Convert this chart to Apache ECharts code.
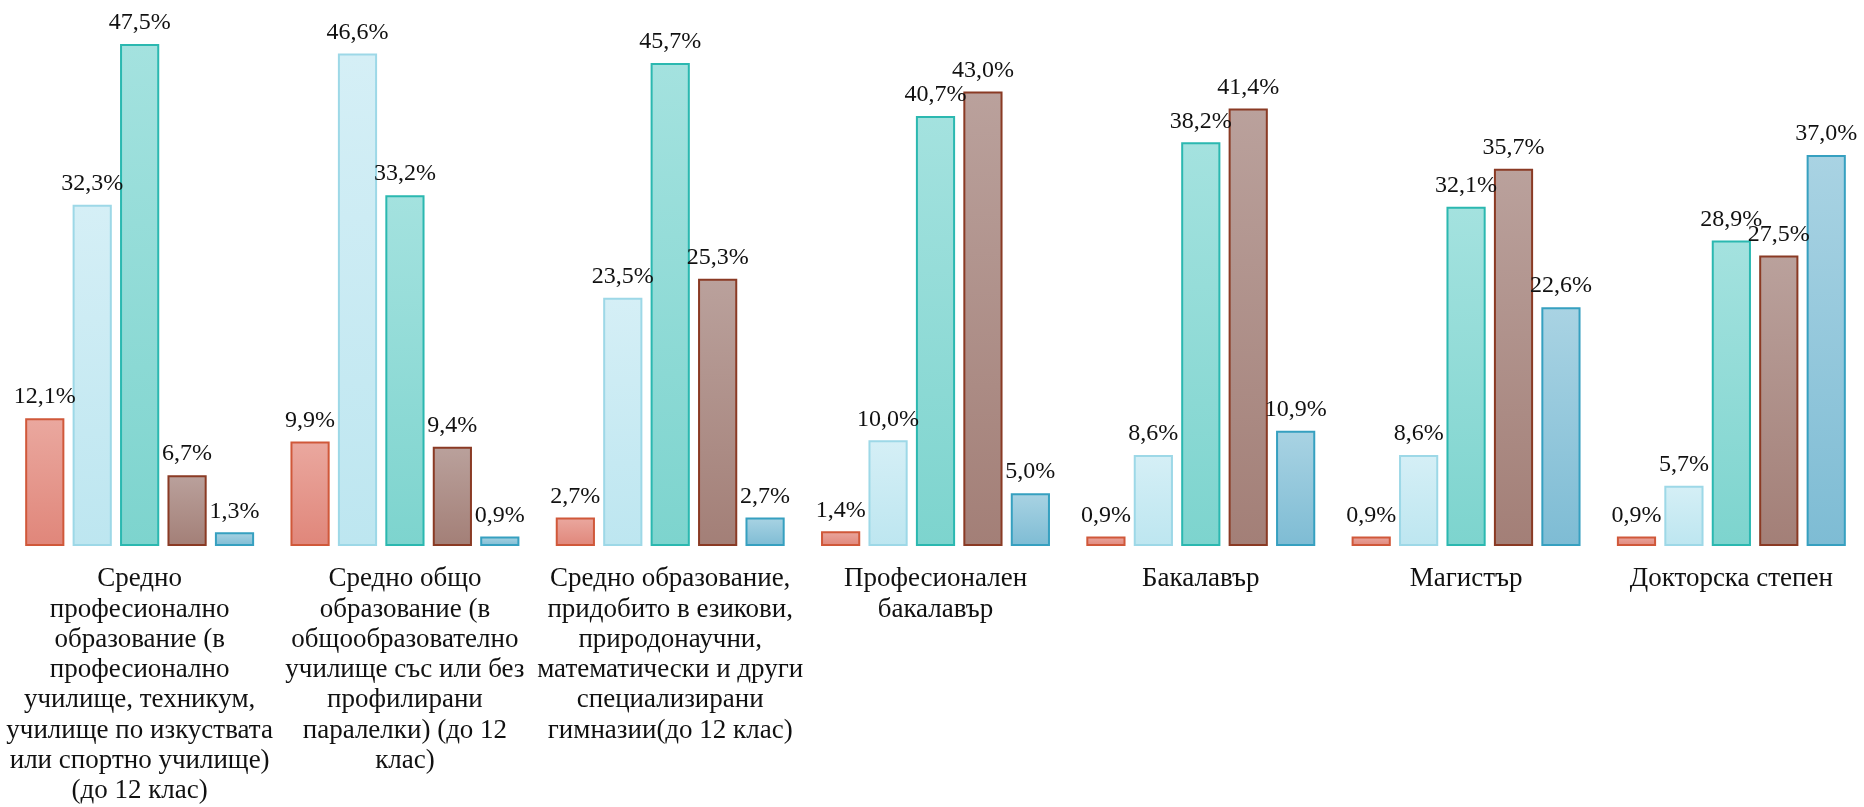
<!DOCTYPE html>
<html>
<head>
<meta charset="utf-8">
<script src="https://cdn.jsdelivr.net/npm/echarts@6/dist/echarts.min.js"></script>
<style>
html,body{margin:0;padding:0;background:#fff;}
#chart{width:1864px;height:807px;}
</style>
</head>
<body>
<div id="chart"></div>
<script>
const categories = [
  "Средно\nпрофесионално\nобразование (в\nпрофесионално\nучилище, техникум,\nучилище по изкуствата\nили спортно училище)\n(до 12 клас)",
  "Средно общо\nобразование (в\nобщообразователно\nучилище със или без\nпрофилирани\nпаралелки) (до 12\nклас)",
  "Средно образование,\nпридобито в езикови,\nприродонаучни,\nматематически и други\nспециализирани\nгимназии(до 12 клас)",
  "Професионален\nбакалавър",
  "Бакалавър",
  "Магистър",
  "Докторска степен"
];
const series1 = [12.1, 9.9, 2.7, 1.4, 0.9, 0.9, 0.9];
const series2 = [32.3, 46.6, 23.5, 10.0, 8.6, 8.6, 5.7];
const series3 = [47.5, 33.2, 45.7, 40.7, 38.2, 32.1, 28.9];
const series4 = [6.7, 9.4, 25.3, 43.0, 41.4, 35.7, 27.5];
const series5 = [1.3, 0.9, 2.7, 5.0, 10.9, 22.6, 37.0];

const styles = [
  {top:'#EAA89F', bottom:'#E0867A', border:'#D0583A'},
  {top:'#D5EFF6', bottom:'#BDE6F0', border:'#9DD8E7'},
  {top:'#A4E2DF', bottom:'#7DD4CE', border:'#2BB8B0'},
  {top:'#BAA19C', bottom:'#A37F77', border:'#8A3A24'},
  {top:'#A9D3E3', bottom:'#7EBCD4', border:'#36A0C0'}
];
const FONT = '"Liberation Serif", "Times New Roman", serif';

function mk(data, i) {
  const s = styles[i];
  return {
    type: 'bar',
    data: data,
    barGap: '21%',
    barCategoryGap: '13.7%',
    itemStyle: {
      color: new echarts.graphic.LinearGradient(0, 0, 0, 1, [
        {offset: 0, color: s.top},
        {offset: 1, color: s.bottom}
      ]),
      borderColor: s.border,
      borderWidth: 2
    },
    label: {
      show: true,
      position: 'top',
      distance: 9,
      fontFamily: FONT,
      fontSize: 24,
      color: '#111',
      formatter: p => p.value.toFixed(1).replace('.', ',') + '%'
    }
  };
}

const chart = echarts.init(document.getElementById('chart'));
chart.setOption({
  animation: false,
  grid: {left: 7, right: 0, top: 17.6, bottom: 261, containLabel: false},
  xAxis: {
    type: 'category',
    data: categories,
    axisLine: {show: false},
    axisTick: {show: false},
    axisLabel: {
      interval: 0,
      margin: 18,
      fontFamily: FONT,
      fontSize: 27,
      lineHeight: 30.3,
      color: '#111',
      align: 'center'
    }
  },
  yAxis: {
    type: 'value',
    min: 0,
    max: 50,
    show: false,
    splitLine: {show: false}
  },
  series: [mk(series1,0), mk(series2,1), mk(series3,2), mk(series4,3), mk(series5,4)]
});
</script>
</body>
</html>
